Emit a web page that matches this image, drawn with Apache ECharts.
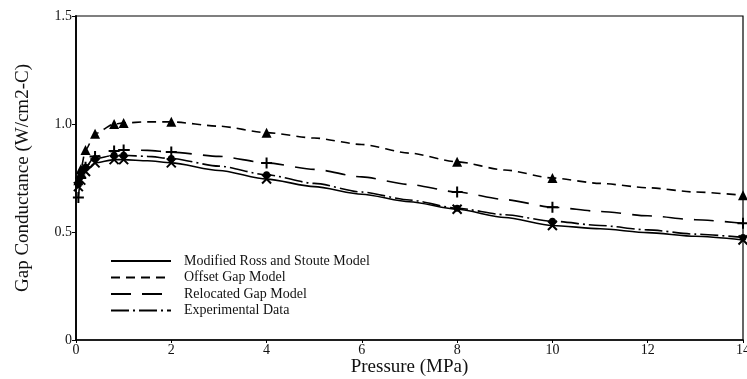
<!DOCTYPE html>
<html>
<head>
<meta charset="utf-8">
<script src="https://cdn.jsdelivr.net/npm/echarts@6/dist/echarts.min.js"></script>
<style>
  html, body { margin: 0; padding: 0; background: #fff; }
  #chart { width: 747px; height: 379px; }
</style>
</head>
<body>
<div id="chart"></div>
<script>
// Pressure points (MPa) along the curves
const pressure = [0.05, 0.1, 0.2, 0.4, 0.8, 1.0, 1.5, 2, 3, 4, 5, 6, 7, 8, 9, 10, 11, 12, 13, 14];
// Pressures carrying a plotted marker
const markerPressure = [0.05, 0.1, 0.2, 0.4, 0.8, 1.0, 2, 4, 8, 10, 14];

// Gap conductance (W/cm2-C) for each model / data set
const rossStoute   = [0.71, 0.74, 0.78, 0.82, 0.835, 0.835, 0.83, 0.82, 0.785, 0.745, 0.71, 0.675, 0.64, 0.605, 0.567, 0.53, 0.515, 0.497, 0.48, 0.463];
const offsetGap    = [0.74, 0.79, 0.88, 0.955, 1.0, 1.005, 1.01, 1.01, 0.99, 0.96, 0.935, 0.905, 0.865, 0.825, 0.787, 0.75, 0.725, 0.705, 0.685, 0.67];
const relocatedGap = [0.66, 0.75, 0.80, 0.85, 0.875, 0.88, 0.878, 0.87, 0.85, 0.82, 0.79, 0.755, 0.72, 0.685, 0.65, 0.615, 0.595, 0.575, 0.557, 0.54];
const experimental = [0.72, 0.76, 0.80, 0.84, 0.855, 0.855, 0.85, 0.84, 0.805, 0.765, 0.725, 0.685, 0.648, 0.61, 0.58, 0.55, 0.53, 0.51, 0.49, 0.475];

const seriesNames = ['Modified Ross and Stoute Model', 'Offset Gap Model', 'Relocated Gap Model', 'Experimental Data'];
const xTicks = [0, 2, 4, 6, 8, 10, 12, 14];

const serif = '"Liberation Serif", "DejaVu Serif", serif';
const crossPath = 'path://M0,0L10,10M10,0L0,10';
const plusPath = 'path://M5,0L5,10M0,5L10,5';

function pairs(ys) { return pressure.map((x, i) => [x, ys[i]]); }

function mkSeries(name, ys, dash, symbol, size, filled) {
  return {
    name: name,
    type: 'line',
    data: pairs(ys),
    smooth: 0.25,
    smoothMonotone: 'x',
    symbol: symbol,
    symbolSize: (val) => markerPressure.includes(val[0]) ? size : 0,
    showAllSymbol: true,
    lineStyle: { color: '#000', width: 1.6, type: dash },
    itemStyle: filled
      ? { color: '#000', borderColor: '#000', borderWidth: 0 }
      : { color: 'none', borderColor: '#000', borderWidth: 2 },
    emphasis: { disabled: true }
  };
}

const chart = echarts.init(document.getElementById('chart'), null, { renderer: 'canvas' });
chart.setOption({
  animation: false,
  backgroundColor: '#fff',
  grid: {
    left: 76, right: 4, top: 16, bottom: 39,
    containLabel: false, outerBoundsMode: 'none',
    show: true, borderColor: '#000', borderWidth: 1.2, backgroundColor: 'transparent'
  },
  legend: {
    left: 105, top: 249,
    orient: 'vertical',
    itemWidth: 60, itemHeight: 10, itemGap: 2.5,
    itemStyle: { opacity: 0 },
    textStyle: { fontFamily: serif, fontSize: 14, color: '#111', padding: [0, 0, 0, 8] },
    data: seriesNames
  },
  xAxis: {
    type: 'value', min: 0, max: 14, interval: 2,
    name: 'Pressure (MPa)', nameLocation: 'middle', nameGap: 18, nameMoveOverlap: false,
    nameTextStyle: { fontFamily: serif, fontSize: 19, color: '#111' },
    axisLine: { show: true, lineStyle: { color: '#000', width: 1.6 } },
    axisTick: { show: true, inside: false, length: 3, lineStyle: { color: '#000' } },
    axisLabel: {
      fontFamily: serif, fontSize: 14, color: '#111', margin: 3,
      formatter: v => xTicks.includes(v) ? String(v) : ''
    },
    splitLine: { show: false }
  },
  yAxis: {
    type: 'value', min: 0, max: 1.5, interval: 0.5,
    name: 'Gap Conductance (W/cm2-C)', nameLocation: 'middle', nameGap: 43, nameRotate: 90,
    nameTextStyle: { fontFamily: serif, fontSize: 19, color: '#111' },
    axisLine: { show: true, lineStyle: { color: '#000', width: 1.8 } },
    axisTick: { show: true, inside: false, length: 4, lineStyle: { color: '#000' } },
    axisLabel: {
      fontFamily: serif, fontSize: 14, color: '#111', margin: 4,
      formatter: v => v === 0 ? '0' : v.toFixed(1)
    },
    splitLine: { show: false }
  },
  series: [
    mkSeries(seriesNames[0], rossStoute, 'solid', crossPath, 9, false),
    mkSeries(seriesNames[1], offsetGap, [9, 6], 'triangle', 10, true),
    mkSeries(seriesNames[2], relocatedGap, [20, 11], plusPath, 11, false),
    mkSeries(seriesNames[3], experimental, [18, 4, 2, 4], 'circle', 7, true)
  ]
});
</script>
</body>
</html>
